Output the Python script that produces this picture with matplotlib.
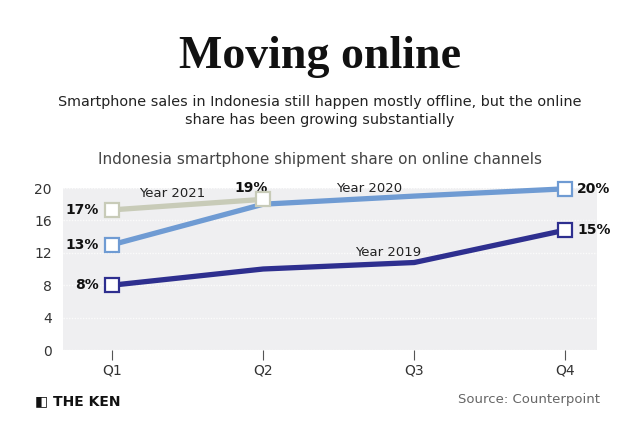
import matplotlib.pyplot as plt

quarters = ['Q1', 'Q2', 'Q3', 'Q4']
y2019 = [8, 10, 10.8, 14.8]
y2020 = [13, 18, 19, 19.9]
y2021 = [17.3, 18.6]
yticks = [0, 4, 8, 12, 16, 20]

c2019 = '#2e2f8f'
c2020 = '#6f9bd3'
c2021 = '#c8cbb8'

fig = plt.figure(figsize=(6.4, 4.46), dpi=100)
ax = fig.add_axes([63/640, 1-350/446, (597-63)/640, (350-188)/446])
ax.set_facecolor('#efeff1')
x = list(range(len(quarters)))

for ys, col in [(y2021, c2021), (y2020, c2020), (y2019, c2019)]:
    ax.plot(x[:len(ys)], ys, color=col, lw=3.8, solid_capstyle='butt', zorder=3,
            clip_on=False)
    ax.plot([x[0], x[len(ys)-1]], [ys[0], ys[-1]], ls='none', marker='s', ms=10,
            mfc='white', mec=col, mew=1.6, zorder=4, clip_on=False)

ax.set_xlim(-0.325, 3.21)
ax.set_ylim(0, 20)
ax.set_yticks(yticks)
ax.set_xticks(x)
ax.set_xticklabels(quarters)
ax.grid(axis='y', color='#fbfbfb', ls=(0, (1, 1)), lw=1)
ax.set_axisbelow(True)
for s in ax.spines.values():
    s.set_visible(False)
ax.tick_params(axis='y', length=0, labelsize=10, labelcolor='#333333', pad=8)
ax.tick_params(axis='x', length=7, width=0.8, color='#555555', labelsize=10,
               labelcolor='#333333', pad=3, direction='out')

lab = dict(fontsize=10, fontweight='bold', color='#111111', va='center')
ax.text(x[0]-0.09, y2021[0], '17%', ha='right', **lab)
ax.text(x[0]-0.09, y2020[0], '13%', ha='right', **lab)
ax.text(x[0]-0.09, y2019[0], '8%', ha='right', **lab)
ax.text(x[1]-0.08, y2021[1]+1.4, '19%', ha='center', **lab)
ax.text(x[3]+0.08, y2020[3], '20%', ha='left', **lab)
ax.text(x[3]+0.08, y2019[3], '15%', ha='left', **lab)

yl = dict(fontsize=9.5, color='#222222', ha='center', va='center')
ax.text(0.4, 19.3, 'Year 2021', **yl)
ax.text(1.7, 19.9, 'Year 2020', **yl)
ax.text(1.83, 12.0, 'Year 2019', **yl)

fig.text(0.5, 1-57/446, 'Moving online', ha='center', va='center', fontsize=33,
         fontweight='bold', family='Liberation Serif', color='#111111')
fig.text(0.5, 1-111/446, 'Smartphone sales in Indonesia still happen mostly offline, but the online\nshare has been growing substantially',
         ha='center', va='center', fontsize=10.4, color='#222222', linespacing=1.3)
fig.text(0.5, 1-160/446, 'Indonesia smartphone shipment share on online channels',
         ha='center', va='center', fontsize=11, color='#444444')
fig.text(35/640, 1-401/446, '◧ THE KEN', ha='left', va='center', fontsize=10,
         fontweight='bold', color='#111111')
fig.text(600/640, 1-400/446, 'Source: Counterpoint', ha='right', va='center',
         fontsize=9.5, color='#666666')

fig.savefig('out.png', dpi=100, facecolor='white')
